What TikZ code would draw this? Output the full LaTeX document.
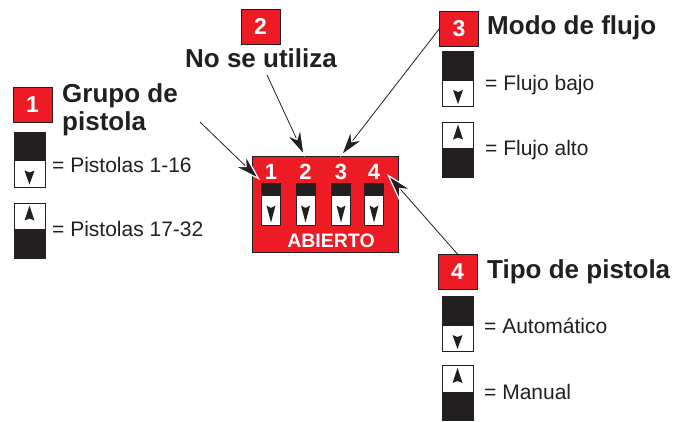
\documentclass[tikz,border=0pt]{standalone}
\usepackage{fontspec}
\setmainfont{Liberation Sans}
\usetikzlibrary{arrows.meta,positioning}
\definecolor{ink}{HTML}{231F20}
\definecolor{signred}{HTML}{ED1C24}
\tikzstyle{numbox}=[rectangle,draw=ink,line width=0.8pt,fill=signred,text=white,minimum width=39pt,minimum height=35pt,inner sep=0pt,font=\bfseries\fontsize{23}{23}\selectfont]
\tikzstyle{heading}=[anchor=base west,inner sep=0pt,text=ink,font=\bfseries\fontsize{26}{28}\selectfont]
\tikzstyle{legend}=[anchor=base west,inner sep=0pt,text=ink,font=\fontsize{21}{24}\selectfont]
\tikzstyle{swbase}=[rectangle,draw=ink,line width=0.6pt,fill=white,inner sep=0pt]
\tikzstyle{swdown}=[swbase,minimum width=31pt,minimum height=55pt,path picture={
  \fill[ink] (path picture bounding box.north west) rectangle ([yshift=-29pt]path picture bounding box.north east);
  \fill[ink] ([yshift=2.5pt]path picture bounding box.south) -- ++(-5pt,14pt) -- ++(5pt,-2pt) -- ++(5pt,2pt) -- cycle;}]
\tikzstyle{swup}=[swbase,minimum width=31pt,minimum height=55pt,path picture={
  \fill[ink] (path picture bounding box.south west) rectangle ([yshift=29pt]path picture bounding box.south east);
  \fill[ink] ([yshift=-2.5pt]path picture bounding box.north) -- ++(-5pt,-15pt) -- ++(5pt,2pt) -- ++(5pt,-2pt) -- cycle;}]
\tikzstyle{dip}=[swbase,minimum width=19pt,minimum height=42pt,path picture={
  \fill[ink] (path picture bounding box.north west) rectangle ([yshift=-13pt]path picture bounding box.north east);
  \fill[ink] ([yshift=2.5pt]path picture bounding box.south) -- ++(-4.5pt,17pt) -- ++(4.5pt,-2.5pt) -- ++(4.5pt,2.5pt) -- cycle;}]
\tikzstyle{dipnum}=[inner sep=0pt,text=white,font=\bfseries\fontsize{22}{22}\selectfont]
\tikzstyle{callout}=[draw=ink,line width=0.8pt,-{Stealth[length=30pt,width=18pt,color=white,fill=ink,line width=1.2pt]}]

\begin{document}
\begin{tikzpicture}[x=1pt,y=-1pt]
  \useasboundingbox (0,0) rectangle (692,421);

  % The switch block with its four switches
  \node[rectangle,draw=ink,line width=0.8pt,fill=signred,minimum width=146pt,minimum height=96pt] (panel) at (325,204) {};
  \foreach \i/\x in {1/271, 2/305.5, 3/341, 4/374}
  {
    \node[dip] (s\i) at (\x,204) {};
    \node[dipnum, above=3pt of s\i] (d\i) {\i};
  }
  \node[inner sep=0pt,text=white,font=\bfseries\fontsize{19.5}{20}\selectfont] (open) at (331,240.5) {ABIERTO};

  % Numbered boxes and their titles
  \foreach \pos/\name in {{(32.5,104.5)/1}, {(260.5,26.5)/2}, {(459,29)/3}, {(457.5,272)/4}}
  \node[numbox] (n\name) at \pos {\name};

  \node[heading] (h1a) at (62,102) {Grupo de};
  \node[heading] (h1b) at (62,130) {pistola};
  \node[heading,anchor=base] (h2) at (261,67) {No se utiliza};
  \node[heading] (h3) at (487,34) {Modo de flujo};
  \node[heading] (h4) at (487,278) {Tipo de pistola};

  % Legend switches
  \foreach \pos/\name/\kind in {{(29.5,159.5)/g1a/swdown}, {(29.5,230.5)/g1b/swup},
                                {(458,79)/g3a/swdown}, {(458,149.5)/g3b/swup},
                                {(457.5,324)/g4a/swdown}, {(457.5,393)/g4b/swup}}
  \node[\kind] (\name) at \pos {};

  \foreach \pos/\name/\txt in {{(52,172)/l1a/Pistolas 1-16}, {(52,236)/l1b/Pistolas 17-32},
                               {(485,90)/l3a/Flujo bajo}, {(485,155)/l3b/Flujo alto},
                               {(484,333)/l4a/Automático}, {(484,399)/l4b/Manual}}
  \node[legend] (\name) at \pos {= \txt};

  % Callout arrows
  \coordinate (a1) at (200,122);
  \coordinate (a2) at (267,75);
  \coordinate (t1) at (260,180);
  \coordinate (t2) at (305,157);
  \coordinate (t3) at (340,157);
  \coordinate (t4) at (387,174);
  \path[callout] (a1) -- (t1);
  \path[callout] (a2) -- (t2);
  \path[callout] (n3.west) -- (t3);
  \path[callout] (n4.north) -- (t4);
\end{tikzpicture}
\end{document}
